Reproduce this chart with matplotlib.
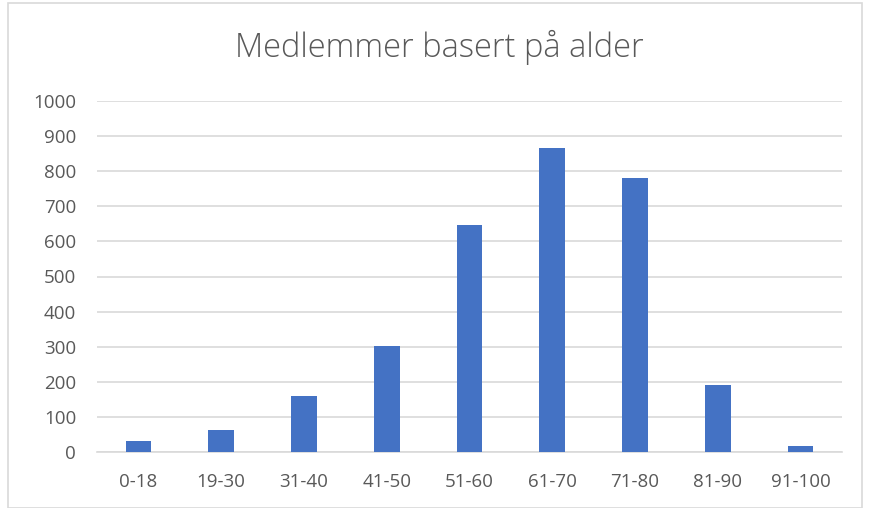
import matplotlib.pyplot as plt
from matplotlib.patches import Rectangle

plt.rcParams["font.family"] = ["Open Sans", "DejaVu Sans"]

age_groups = ["0-18", "19-30", "31-40", "41-50", "51-60", "61-70", "71-80", "81-90", "91-100"]
members = [31, 63, 160, 302, 647, 866, 782, 191, 18]
y_ticks = [0, 100, 200, 300, 400, 500, 600, 700, 800, 900, 1000]

fig = plt.figure(figsize=(8.74, 5.08), dpi=100)
ax = fig.add_axes([97 / 874, 1 - 452 / 508, (842 - 97) / 874, (452 - 101) / 508])

# chart border
fig.patches.append(Rectangle((8 / 874, 0), (862 - 8) / 874, 1 - 3 / 508,
                             transform=fig.transFigure, fill=False,
                             edgecolor="#d9d9d9", linewidth=1.2))

ax.bar(range(len(age_groups)), members, width=0.31, color="#4472c4", zorder=3)

ax.set_xlim(-0.5, len(age_groups) - 0.5)
ax.set_ylim(0, 1000)
ax.set_yticks(y_ticks)
ax.set_xticks(range(len(age_groups)))
ax.set_xticklabels(age_groups)
ax.grid(axis="y", color="#d9d9d9", linewidth=1.2, zorder=0)
ax.tick_params(length=0, labelsize=13.5, colors="#595959")
ax.tick_params(axis="y", pad=15)
ax.tick_params(axis="x", pad=15)
for s in ["top", "right", "left"]:
    ax.spines[s].set_visible(False)
ax.spines["bottom"].set_color("#d9d9d9")
ax.spines["bottom"].set_linewidth(1.2)

fig.text(0.503, 1 - 47 / 508, "Medlemmer basert på alder", ha="center", va="center",
         fontsize=23.5, color="#595959", fontweight="light")

fig.savefig("out.png", dpi=100)
